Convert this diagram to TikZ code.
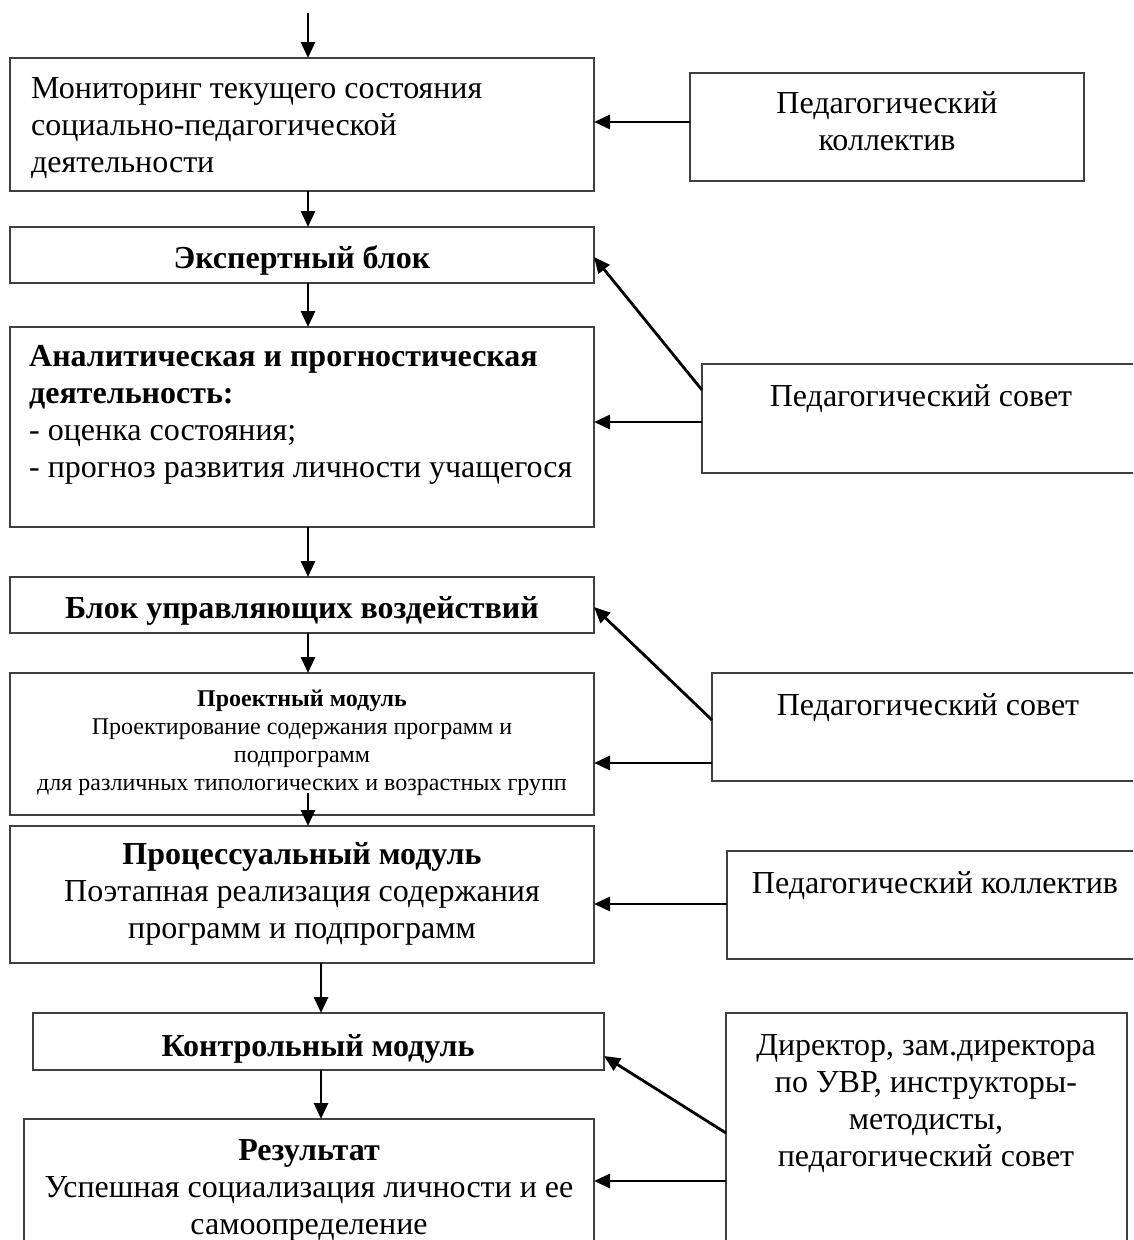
\documentclass[tikz,border=0pt]{standalone}
\usepackage{fontspec}
\setmainfont{Liberation Serif}
\usetikzlibrary{arrows.meta,calc}
\begin{document}
\begin{tikzpicture}[x=1pt,y=-1pt,
  box/.style={draw=black!75, line width=1.5pt, inner sep=0pt, outer sep=0pt, anchor=north west},
  txt/.style={inner sep=0pt, font=\fontsize{32}{37}\selectfont, execute at begin node=\strut, execute at end node=\strut},
  smalltxt/.style={inner sep=0pt, font=\fontsize{24}{28}\selectfont, execute at begin node=\strut, execute at end node=\strut},
  arr/.style={line width=2.8pt, -{Triangle[length=16pt,width=14pt]}}
]
\useasboundingbox (0,0) rectangle (1133,1240);
\fill[white] (0,0) rectangle (1133,1240);
\clip (0,0) rectangle (1133,1240);

% left column boxes
\node[box, minimum width=584, minimum height=133] (mon) at (10,58) {};
\node[box, minimum width=584, minimum height=56] (exp) at (10,227) {};
\node[box, minimum width=584, minimum height=200] (ana) at (10,327) {};
\node[box, minimum width=584, minimum height=56] (blk) at (10,577) {};
\node[box, minimum width=584, minimum height=142] (prj) at (10,673) {};
\node[box, minimum width=584, minimum height=137] (prc) at (10,826) {};
\node[box, minimum width=571, minimum height=57] (ctl) at (33,1013) {};
\node[box, minimum width=570, minimum height=160] (res) at (24,1119) {};

% right column boxes
\node[box, minimum width=394, minimum height=108] (pk1) at (690,73) {};
\node[box, minimum width=460, minimum height=109] (ps1) at (702,364) {};
\node[box, minimum width=450, minimum height=108] (ps2) at (712,673) {};
\node[box, minimum width=435, minimum height=108] (pk2) at (727,851) {};
\node[box, minimum width=401, minimum height=260] (dir) at (726,1013) {};

% texts
\node[txt, anchor=west, align=left] (tmon) at (31,131) {Мониторинг текущего состояния\\социально-педагогической\\деятельности};
\node[txt, font=\fontsize{32}{37}\selectfont\bfseries] (texp) at (302,261) {Экспертный блок};
\node[txt, anchor=west, align=left] (tana) at (29,417) {\textbf{Аналитическая и прогностическая}\\\textbf{деятельность:}\\- оценка состояния;\\- прогноз развития личности учащегося};
\node[txt, font=\fontsize{32}{37}\selectfont\bfseries] (tblk) at (302,611) {Блок управляющих воздействий};
\node[smalltxt, align=center] (tprj) at (302,744) {\textbf{Проектный модуль}\\Проектирование содержания программ и\\подпрограмм\\для различных типологических и возрастных групп};
\node[txt, align=center] (tprc) at (302,896) {\textbf{Процессуальный модуль}\\Поэтапная реализация содержания\\программ и подпрограмм};
\node[txt, font=\fontsize{32}{37}\selectfont\bfseries] (tctl) at (318,1049) {Контрольный модуль};
\node[txt, align=center] (tres) at (309,1193) {\textbf{Результат}\\Успешная социализация личности и ее\\самоопределение};

\node[txt, align=center] (tpk1) at (887,127) {Педагогический\\коллектив};
\node[txt] (tps1) at (921,399) {Педагогический совет};
\node[txt] (tps2) at (928,708) {Педагогический совет};
\node[txt] (tpk2) at (935,886) {Педагогический коллектив};
\node[txt, align=center] (tdir) at (926,1106) {Директор, зам.директора\\по УВР, инструкторы-\\методисты,\\педагогический совет};

% vertical arrows
\coordinate (ax) at (308,0);
\coordinate (bx) at (321,0);
\coordinate (start) at (308,13);
\coordinate (pin) at (308,793);
\draw[arr] (start) -- (mon.north -| ax);
\draw[arr] (mon.south -| ax) -- (exp.north -| ax);
\draw[arr] (exp.south -| ax) -- (ana.north -| ax);
\draw[arr] (ana.south -| ax) -- (blk.north -| ax);
\draw[arr] (blk.south -| ax) -- (prj.north -| ax);
\draw[arr] (pin) -- (prc.north -| ax);
\draw[arr] (prc.south -| bx) -- (ctl.north -| bx);
\draw[arr] (ctl.south -| bx) -- (res.north -| bx);

% side arrows
\draw[arr] (pk1.west |- 0,122) -- (mon.east |- 0,122);
\draw[arr] (ps1.west |- 0,390) -- (exp.east |- 0,257);
\draw[arr] (ps1.west |- 0,422) -- (ana.east |- 0,422);
\draw[arr] (ps2.west |- 0,720) -- (blk.east |- 0,607);
\draw[arr] (ps2.west |- 0,763) -- (prj.east |- 0,763);
\draw[arr] (pk2.west |- 0,904) -- (prc.east |- 0,904);
\draw[arr] (dir.west |- 0,1133) -- (ctl.east |- 0,1056);
\draw[arr] (dir.west |- 0,1181) -- (res.east |- 0,1181);
\end{tikzpicture}
\end{document}
